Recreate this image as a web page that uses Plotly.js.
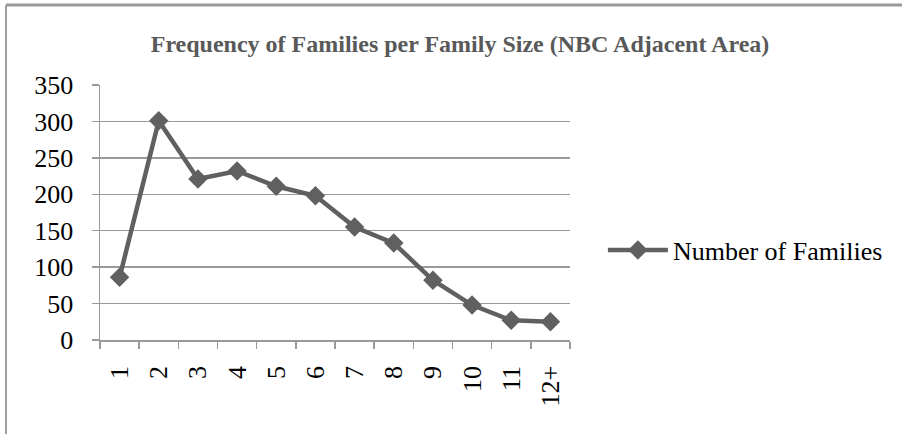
<!DOCTYPE html>
<html>
<head>
<meta charset="utf-8">
<script src="https://cdn.plot.ly/plotly-3.0.1.min.js"></script>
<style>
html,body{margin:0;padding:0;background:#fff;}
#chart{width:902px;height:434px;}
</style>
</head>
<body>
<div id="chart"></div>
<script>
const familySizes = ["1","2","3","4","5","6","7","8","9","10","11","12+"];
const numberOfFamilies = [86, 301, 221, 232, 211, 198, 155, 133, 82, 48, 27, 25];
const yTicks = [0, 50, 100, 150, 200, 250, 300, 350];

const gray = "#606060";
const gridGray = "#9a9a9a";
const frameGray = "#a0a0a0";
const serif = "Liberation Serif, Times New Roman, serif";

const W = 902, H = 434;
const M = {l: 100, r: 332, t: 85, b: 94};
const pw = W - M.l - M.r, ph = H - M.t - M.b;
const px = v => (v - M.l) / pw;
const py = v => (H - M.b - v) / ph;

const trace = {
  type: "scatter",
  mode: "lines+markers",
  name: "Number of Families",
  x: familySizes,
  y: numberOfFamilies,
  line: {color: gray, width: 4.5},
  marker: {symbol: "diamond", size: 15, color: gray}
};

const layout = {
  width: W,
  height: H,
  margin: M,
  paper_bgcolor: "#ffffff",
  plot_bgcolor: "#ffffff",
  title: {
    text: "<b>Frequency of Families per Family Size (NBC Adjacent Area)</b>",
    font: {family: serif, size: 24, color: "#595959"},
    x: 0.51, xref: "container", xanchor: "center",
    y: 0.9, yref: "container", yanchor: "middle"
  },
  xaxis: {
    type: "category",
    range: [-0.5, 11.5],
    tickson: "boundaries",
    ticks: "outside",
    ticklen: 7,
    tickwidth: 1.5,
    tickcolor: gridGray,
    showline: true,
    linecolor: gridGray,
    linewidth: 1.5,
    showgrid: false,
    zeroline: false,
    tickangle: -90,
    ticklabelstandoff: 14,
    tickfont: {family: serif, size: 26, color: "#000"},
    fixedrange: true
  },
  yaxis: {
    range: [0, 350],
    tickvals: yTicks,
    ticks: "outside",
    ticklen: 7,
    tickwidth: 1.5,
    tickcolor: gridGray,
    showline: true,
    linecolor: gridGray,
    linewidth: 1.5,
    showgrid: true,
    gridcolor: gridGray,
    gridwidth: 1.5,
    zeroline: false,
    ticklabelstandoff: 13,
    tickfont: {family: serif, size: 26, color: "#000"},
    fixedrange: true
  },
  shapes: [
    {type: "line", xref: "paper", yref: "paper", x0: px(6), x1: px(W + 5), y0: py(5), y1: py(5),
     line: {color: "#999999", width: 3}},
    {type: "line", xref: "paper", yref: "paper", x0: px(6), x1: px(6), y0: py(5), y1: py(H + 5),
     line: {color: frameGray, width: 2}}
  ],
  showlegend: true,
  legend: {
    x: 1.07, xref: "paper", xanchor: "left",
    y: 0.353, yref: "paper", yanchor: "middle",
    font: {family: serif, size: 26, color: "#000"},
    bgcolor: "rgba(0,0,0,0)",
    itemwidth: 60
  }
};

Plotly.newPlot("chart", [trace], layout, {displayModeBar: false, staticPlot: true});
</script>
</body>
</html>
